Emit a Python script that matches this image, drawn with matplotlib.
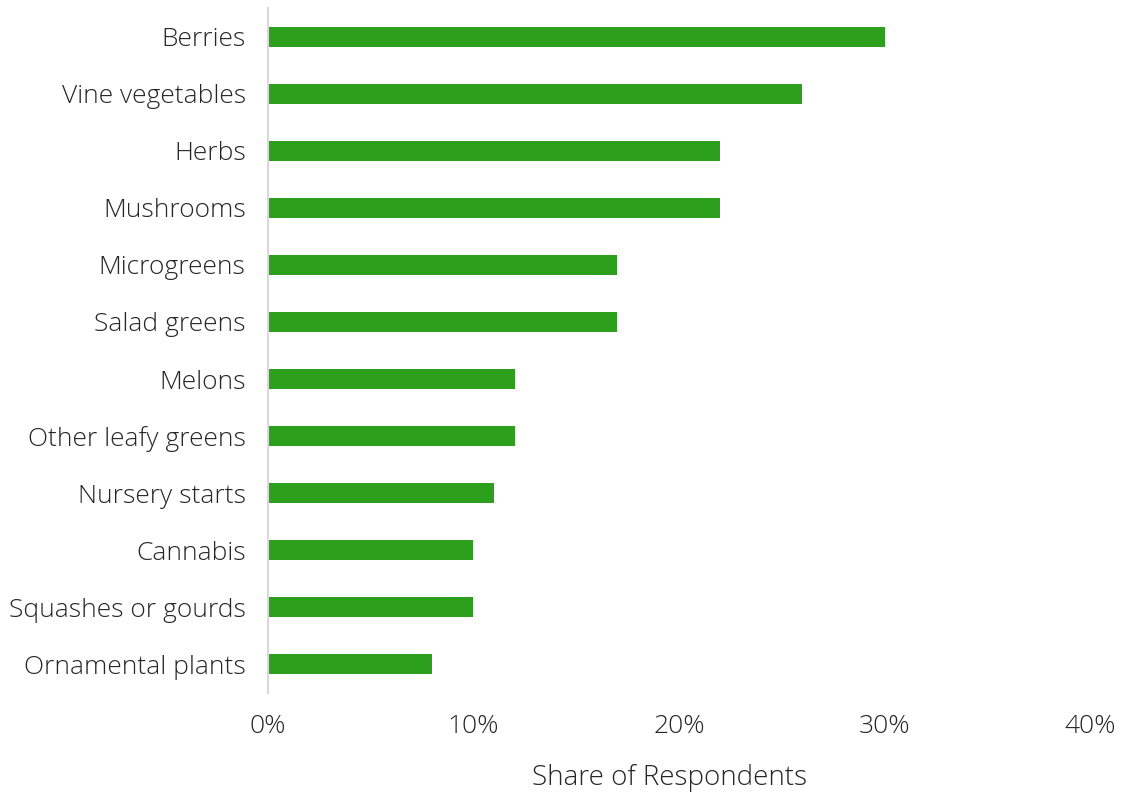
import matplotlib
matplotlib.use("Agg")
import matplotlib.pyplot as plt
from matplotlib.ticker import FuncFormatter

categories = ["Berries", "Vine vegetables", "Herbs", "Mushrooms", "Microgreens",
              "Salad greens", "Melons", "Other leafy greens", "Nursery starts",
              "Cannabis", "Squashes or gourds", "Ornamental plants"]
values = [30, 26, 22, 22, 17, 17, 12, 12, 11, 10, 10, 8]
xticks = [0, 10, 20, 30, 40]

plt.rcParams['font.family'] = ['Open Sans', 'DejaVu Sans']
plt.rcParams['font.weight'] = 'light'

fig = plt.figure(figsize=(11.24, 7.92), dpi=100)
ax = fig.add_axes([0.2384, 0.125, 0.9698 - 0.2384, 0.9899 - 0.125])

ypos = list(range(len(categories)))
ax.barh(ypos, values, height=0.35, color="#2ca01c")
ax.set_ylim(len(categories) - 0.5, -0.5)
ax.set_xlim(0, 40)
ax.set_yticks(ypos)
ax.set_yticklabels(categories, fontsize=19, color="#262626")
ax.set_xticks(xticks)
ax.xaxis.set_major_formatter(FuncFormatter(lambda v, p: f"{v:.0f}%"))
ax.tick_params(axis='x', labelsize=19, colors="#262626", length=0, pad=15)
ax.tick_params(axis='y', length=0, pad=16)
for s in ["top", "right", "bottom"]:
    ax.spines[s].set_visible(False)
ax.spines["left"].set_color("#d9d9d9")
ax.spines["left"].set_linewidth(1.5)
ax.set_xlabel("Share of Respondents", fontsize=20, color="#262626",
              fontweight='light')
ax.xaxis.set_label_coords(0.489, -0.103)
ax.xaxis.get_label().set_verticalalignment('top')

fig.savefig("out.png", dpi=100)
